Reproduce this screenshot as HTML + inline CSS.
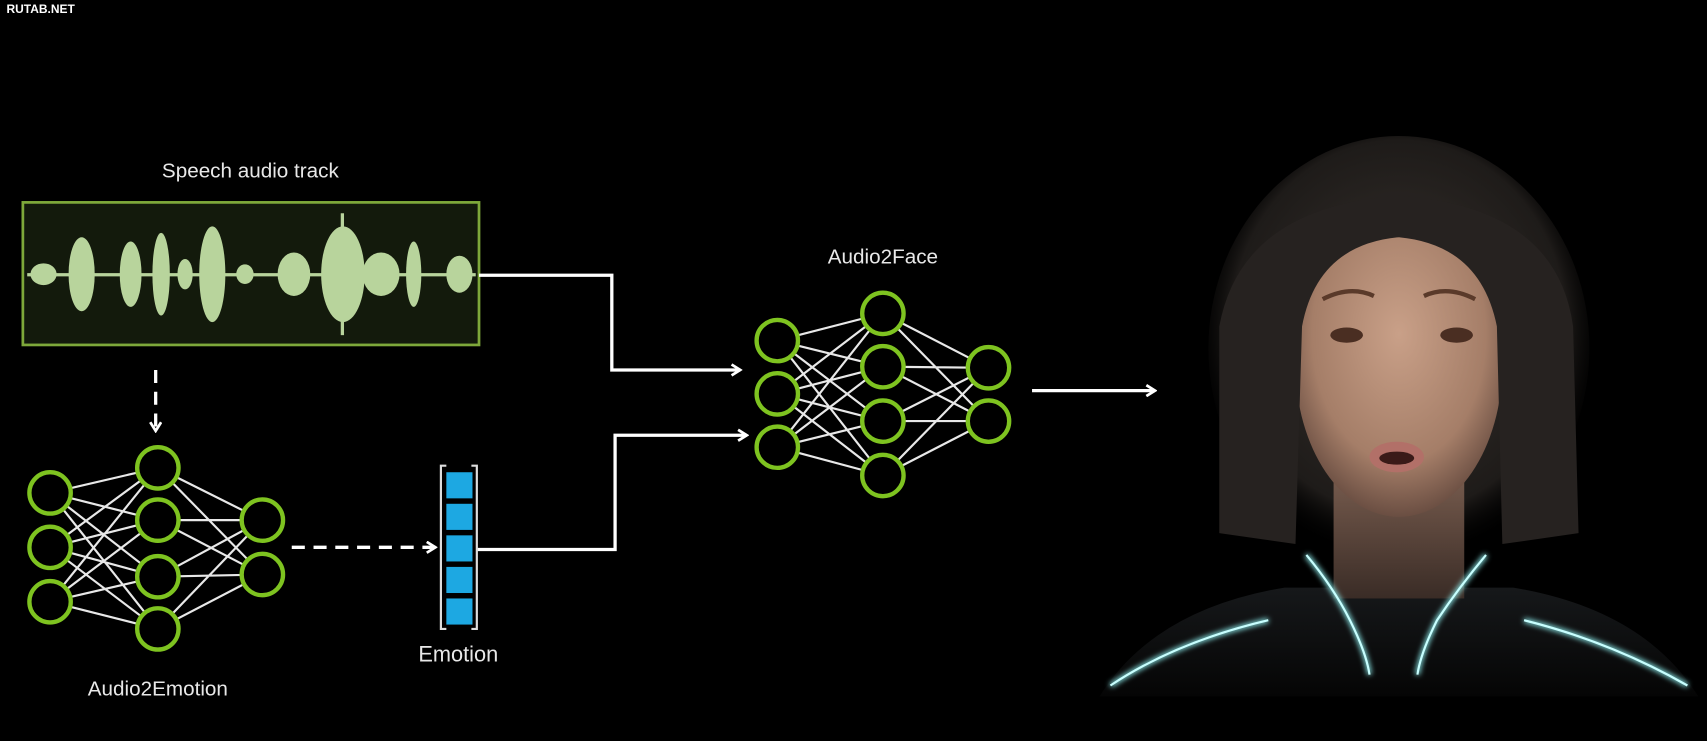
<!DOCTYPE html>
<html><head><meta charset="utf-8"><style>
html,body{margin:0;padding:0;background:#000;width:1707px;height:741px;overflow:hidden}
svg{display:block}
text{font-family:"Liberation Sans",sans-serif;fill:#e8e8e8}
</style></head><body>
<svg width="1707" height="741" viewBox="0 0 1568 681" preserveAspectRatio="none">
<defs>
<marker id="ah" markerWidth="12" markerHeight="12" refX="10" refY="6" orient="auto" markerUnits="userSpaceOnUse">
<path d="M2,1 L10,6 L2,11" fill="none" stroke="#fff" stroke-width="2.5"/>
</marker>
<radialGradient id="hair" cx="50%" cy="45%" r="55%">
<stop offset="0" stop-color="#3a3430"/><stop offset="0.8" stop-color="#1e1b19"/><stop offset="1" stop-color="#000" stop-opacity="0"/>
</radialGradient>
<radialGradient id="skin" cx="50%" cy="40%" r="60%">
<stop offset="0" stop-color="#c9a088"/><stop offset="0.7" stop-color="#a57e68"/><stop offset="1" stop-color="#6a4e42"/>
</radialGradient>
<linearGradient id="neck" x1="0" y1="0" x2="0" y2="1">
<stop offset="0" stop-color="#7a5e50"/><stop offset="1" stop-color="#3a2c26"/>
</linearGradient>
<linearGradient id="body" x1="0" y1="0" x2="0" y2="1">
<stop offset="0" stop-color="#16181a"/><stop offset="1" stop-color="#050505"/>
</linearGradient>
<filter id="glow"><feGaussianBlur stdDeviation="2.5"/></filter>
</defs>
<rect width="1568" height="681" fill="#000"/>
<text x="6" y="12" font-size="11" font-weight="bold" fill="#fff" style="fill:#fff">RUTAB.NET</text>

<text x="230" y="163" font-size="19" text-anchor="middle">Speech audio track</text>
<rect x="21" y="186" width="419" height="131" fill="#131a0c" stroke="#7ea83a" stroke-width="2.5"/>
<g fill="#b8d49c">
<rect x="25" y="251" width="412" height="3"/>
<ellipse cx="40" cy="252" rx="12" ry="10"/>
<ellipse cx="75" cy="252" rx="12" ry="34"/>
<ellipse cx="120" cy="252" rx="10" ry="30"/>
<ellipse cx="148" cy="252" rx="8" ry="38"/>
<ellipse cx="170" cy="252" rx="7" ry="14"/>
<ellipse cx="195" cy="252" rx="12" ry="44"/>
<ellipse cx="225" cy="252" rx="8" ry="9"/>
<ellipse cx="270" cy="252" rx="15" ry="20"/>
<ellipse cx="315" cy="252" rx="20" ry="44"/>
<rect x="313" y="196" width="3" height="112"/>
<ellipse cx="350" cy="252" rx="17" ry="20"/>
<ellipse cx="380" cy="252" rx="7" ry="30"/>
<ellipse cx="422" cy="252" rx="12" ry="17"/>
</g>

<g fill="none" stroke="#fff" stroke-width="3">
<polyline points="440,253 562,253 562,340 680,340" marker-end="url(#ah)"/>
<polyline points="438,505 565,505 565,400 686,400" marker-end="url(#ah)"/>
<line x1="143" y1="340" x2="143" y2="396" stroke-dasharray="12,8" marker-end="url(#ah)"/>
<line x1="268" y1="503" x2="400" y2="503" stroke-dasharray="12,8" marker-end="url(#ah)"/>
<line x1="948" y1="359" x2="1061" y2="359" marker-end="url(#ah)"/>
</g>

<g stroke="#e8e8e8" stroke-width="2">
<path d="M46,453L145,430M46,453L145,478M46,453L145,530M46,453L145,578M46,503L145,430M46,503L145,478M46,503L145,530M46,503L145,578M46,553L145,430M46,553L145,478M46,553L145,530M46,553L145,578M145,430L241,478M145,430L241,528M145,478L241,478M145,478L241,528M145,530L241,478M145,530L241,528M145,578L241,478M145,578L241,528"/>
</g>
<g fill="#000" stroke="#7ec320" stroke-width="4">
<circle cx="46" cy="453" r="19"/><circle cx="46" cy="503" r="19"/><circle cx="46" cy="553" r="19"/>
<circle cx="145" cy="430" r="19"/><circle cx="145" cy="478" r="19"/><circle cx="145" cy="530" r="19"/><circle cx="145" cy="578" r="19"/>
<circle cx="241" cy="478" r="19"/><circle cx="241" cy="528" r="19"/>
</g>
<text x="145" y="639" font-size="19" text-anchor="middle">Audio2Emotion</text>

<g fill="none" stroke="#ddd" stroke-width="2">
<path d="M410,428H405V578H410M433,428H438V578H433"/>
</g>
<g fill="#1da8e2">
<rect x="410" y="434" width="24" height="24"/><rect x="410" y="463" width="24" height="24"/><rect x="410" y="492" width="24" height="24"/><rect x="410" y="521" width="24" height="24"/><rect x="410" y="550" width="24" height="24"/>
</g>
<text x="421" y="608" font-size="20" text-anchor="middle">Emotion</text>

<text x="811" y="242" font-size="19" text-anchor="middle">Audio2Face</text>
<g stroke="#e8e8e8" stroke-width="2">
<path d="M714,313L811,288M714,313L811,337M714,313L811,387M714,313L811,437M714,362L811,288M714,362L811,337M714,362L811,387M714,362L811,437M714,411L811,288M714,411L811,337M714,411L811,387M714,411L811,437M811,288L908,338M811,288L908,387M811,337L908,338M811,337L908,387M811,387L908,338M811,387L908,387M811,437L908,338M811,437L908,387"/>
</g>
<g fill="#000" stroke="#7ec320" stroke-width="4">
<circle cx="714" cy="313" r="19"/><circle cx="714" cy="362" r="19"/><circle cx="714" cy="411" r="19"/>
<circle cx="811" cy="288" r="19"/><circle cx="811" cy="337" r="19"/><circle cx="811" cy="387" r="19"/><circle cx="811" cy="437" r="19"/>
<circle cx="908" cy="338" r="19"/><circle cx="908" cy="387" r="19"/>
</g>

<ellipse cx="1285" cy="320" rx="175" ry="195" fill="url(#hair)"/>
<path d="M1010,640 Q1060,560 1180,540 L1390,540 Q1510,560 1560,640 Z" fill="url(#body)"/>
<rect x="1225" y="430" width="120" height="120" fill="url(#neck)"/>
<ellipse cx="1285" cy="335" rx="95" ry="140" fill="url(#skin)"/>
<path d="M1120,300 Q1140,190 1285,180 Q1430,190 1445,300 L1450,490 L1380,500 L1375,300 Q1360,225 1285,218 Q1210,225 1196,300 L1190,500 L1120,490 Z" fill="#262220"/>
<g stroke="#5a3a2a" stroke-width="4" fill="none"><path d="M1215,275 Q1240,262 1262,272M1308,272 Q1330,262 1355,275"/></g>
<ellipse cx="1237" cy="308" rx="15" ry="7" fill="#4a2e22"/><ellipse cx="1338" cy="308" rx="15" ry="7" fill="#4a2e22"/>
<ellipse cx="1283" cy="420" rx="25" ry="14" fill="#b27068"/><ellipse cx="1283" cy="421" rx="16" ry="6" fill="#3a1a18"/>
<g fill="none" stroke="#8ff0f0" stroke-width="4" filter="url(#glow)">
<path d="M1200,510 Q1225,540 1240,570 Q1255,600 1258,620"/>
<path d="M1365,510 Q1340,540 1320,570 Q1305,600 1302,620"/>
<path d="M1165,570 Q1080,590 1020,630"/>
<path d="M1400,570 Q1480,590 1550,630"/>
</g>
<g fill="none" stroke="#c8ffff" stroke-width="2">
<path d="M1200,510 Q1225,540 1240,570 Q1255,600 1258,620"/>
<path d="M1365,510 Q1340,540 1320,570 Q1305,600 1302,620"/>
<path d="M1165,570 Q1080,590 1020,630"/>
<path d="M1400,570 Q1480,590 1550,630"/>
</g>
</svg>
</body></html>
